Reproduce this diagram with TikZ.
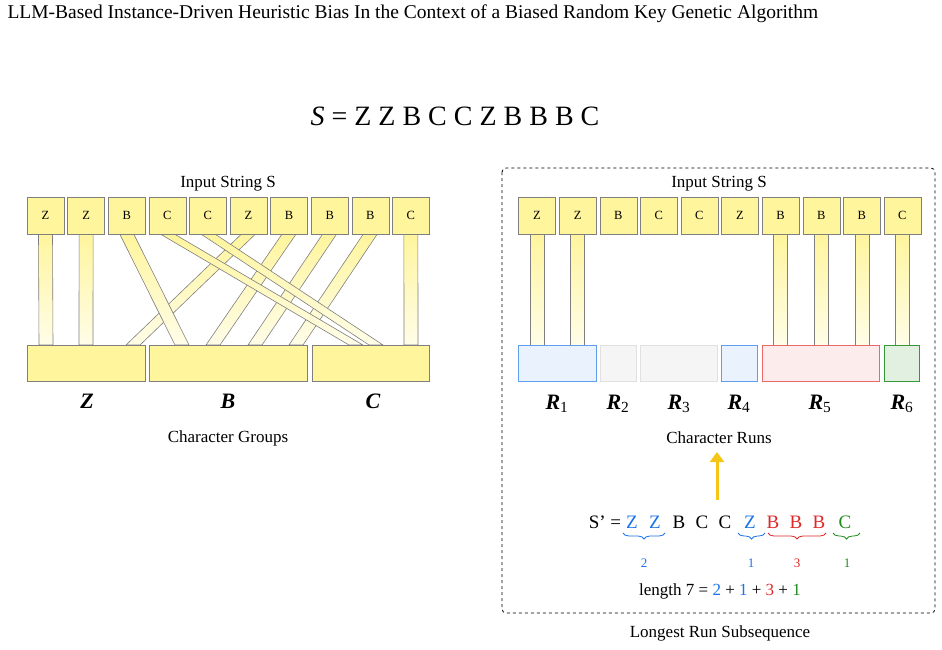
\documentclass[tikz,border=0pt]{standalone}
\usepackage{fontspec}
\setmainfont{Liberation Serif}
\usetikzlibrary{decorations.pathreplacing,arrows.meta}
\definecolor{yl}{HTML}{FFF59D}
\definecolor{yll}{HTML}{FFFDE8}
\definecolor{bd}{HTML}{7F7F7F}
\definecolor{bT}{HTML}{1A73E8}
\definecolor{rT}{HTML}{E02828}
\definecolor{gT}{HTML}{1E8C1E}
\tikzset{
 chr/.style={draw=bd,fill=yl,minimum width=37pt,minimum height=37pt,inner sep=0pt,font=\fontsize{12.5}{12.5}\selectfont},
 grp/.style={draw=bd,fill=yl,inner sep=0pt},
 band/.style={draw=bd,line width=0.6pt,top color=yl,bottom color=yll},
 captxt/.style={font=\fontsize{17}{17}\selectfont},
 glab/.style={font=\fontsize{22}{22}\selectfont\bfseries\itshape},
 sl/.style={font=\fontsize{19}{19}\selectfont},
}
\begin{document}
\begin{tikzpicture}[x=1pt,y=-1pt]
\useasboundingbox (0,0) rectangle (942,649);
\node[anchor=west,font=\fontsize{19.5}{19.5}\selectfont] (title) at (4,14) {LLM-Based Instance-Driven Heuristic Bias In the Context of a Biased Random Key Genetic Algorithm};
\node[font=\fontsize{28}{28}\selectfont] (eq) at (455,116) {\textit{S} = Z Z B C C Z B B B C};
% left
\node[captxt] (inL) at (228,184) {Input String S};
\foreach \i/\b in {0/46,1/86,5/133,2/182,6/213,7/255,8/296,3/356,4/376,9/411}{
  \pgfmathsetmacro\t{45.5+40.6*\i}
  \draw[band] (\t-7,234) -- (\b-7,345) -- (\b+7,345) -- (\t+7,234) -- cycle;
}
\foreach \c [count=\i from 0] in {Z,Z,B,C,C,Z,B,B,B,C}{
  \node[chr] (l\i) at (45.5+40.6*\i,215.5) {\c};
}
\node[grp,minimum width=118pt,minimum height=36pt] (gZ) at (86,363) {};
\node[grp,minimum width=158pt,minimum height=36pt] (gB) at (228,363) {};
\node[grp,minimum width=117pt,minimum height=36pt] (gC) at (370.5,363) {};
\node[glab] (lZ) at (87,401) {Z};
\node[glab] (lB) at (228,401) {B};
\node[glab] (lC) at (373,401) {C};
\node[captxt] (cg) at (228,438) {Character Groups};
% right
\draw[dashed,rounded corners=4pt,line width=0.8pt] (502,168) rectangle (935,613);
\node[captxt] (inR) at (719,184) {Input String S};
\foreach \i in {0,1,6,7,8,9}{
  \pgfmathsetmacro\t{537+40.6*\i}
  \draw[band] (\t-7,234) -- (\t-7,345) -- (\t+7,345) -- (\t+7,234) -- cycle;
}
\foreach \c [count=\i from 0] in {Z,Z,B,C,C,Z,B,B,B,C}{
  \node[chr] (r\i) at (537+40.6*\i,215.5) {\c};
}
\draw[draw=bT!70,fill=bT!9,line width=0.8pt] (518,345) rectangle (596,381);
\draw[draw=black!12,fill=black!4,line width=0.8pt] (600,345) rectangle (636,381);
\draw[draw=black!12,fill=black!4,line width=0.8pt] (640,345) rectangle (717,381);
\draw[draw=bT!70,fill=bT!9,line width=0.8pt] (721,345) rectangle (757,381);
\draw[draw=rT!70,fill=rT!9,line width=0.8pt] (762,345) rectangle (879,381);
\draw[draw=gT!90,fill=gT!13,line width=0.8pt] (884,345) rectangle (919,381);
\foreach \x/\k in {557/1,618/2,679/3,739/4,820/5,902/6}{
  \node[glab] (R\k) at (\x,404) {R\textsubscript{\normalfont\k}};
}
\node[captxt] (cr) at (719,438) {Character Runs};
\coordinate (aS) at (717,500);
\coordinate (aE) at (717,452);
\draw[-{Triangle[length=10pt,width=14pt]},line width=3pt,color={rgb,255:red,245;green,197;blue,24}] (aS) -- (aE);
\node[sl] (sp) at (605,522) {S{\char39} =};
\foreach \x/\c/\col in {632/Z/bT,655/Z/bT,679/B/black,702/C/black,725/C/black,750/Z/bT,773/B/rT,796/B/rT,819/B/rT,845/C/gT}{
  \node[sl,text=\col] at (\x,522) {\c};
}
\draw[bT,line width=0.8pt,decorate,decoration={brace,mirror,amplitude=6pt}] (623,533) -- (665,533);
\draw[bT,line width=0.8pt,decorate,decoration={brace,mirror,amplitude=6pt}] (738,533) -- (765,533);
\draw[rT,line width=0.8pt,decorate,decoration={brace,mirror,amplitude=6pt}] (768,533) -- (826,533);
\draw[gT,line width=0.8pt,decorate,decoration={brace,mirror,amplitude=6pt}] (833,533) -- (860,533);
\node[text=bT,font=\fontsize{13}{13}\selectfont] at (644,563) {2};
\node[text=bT,font=\fontsize{13}{13}\selectfont] at (751,563) {1};
\node[text=rT,font=\fontsize{13}{13}\selectfont] at (797,563) {3};
\node[text=gT,font=\fontsize{13}{13}\selectfont] at (847,563) {1};
\node[captxt] (len) at (720,591) {length 7 = \textcolor{bT}{2} + \textcolor{bT}{1} + \textcolor{rT}{3} + \textcolor{gT}{1}};
\node[captxt] (lrs) at (720,633) {Longest Run Subsequence};
\end{tikzpicture}
\end{document}
